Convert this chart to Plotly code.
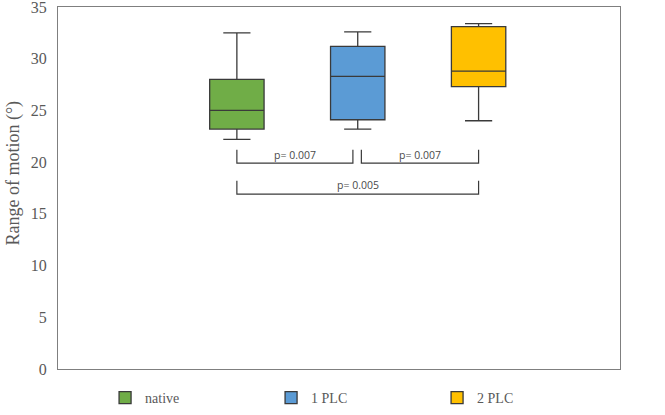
import plotly.graph_objects as go

groups = ["native", "1 PLC", "2 PLC"]
colors = ["#70AD47", "#5B9BD5", "#FFC000"]
lower = [22.2, 23.2, 24.0]
q1 = [23.2, 24.1, 27.3]
median = [25.0, 28.3, 28.8]
q3 = [28.0, 31.2, 33.1]
upper = [32.5, 32.6, 33.4]

# significance brackets: (start group, end group, top y, bottom y, label y, label)
brackets = [
    (0, 0.96, 21.2, 19.9, 20.7, "p= 0.007"),
    (1.03, 2, 21.2, 19.9, 20.7, "p= 0.007"),
    (0, 2, 18.2, 16.9, 17.8, "p= 0.005"),
]
y_title = "Range of motion (°)"

fig = go.Figure()
for i, g in enumerate(groups):
    fig.add_trace(go.Box(
        x=[i], q1=[q1[i]], median=[median[i]], q3=[q3[i]],
        lowerfence=[lower[i]], upperfence=[upper[i]],
        name=g, fillcolor=colors[i],
        line=dict(color="#3a3a3a", width=1.3),
        width=0.45, whiskerwidth=0.5, boxpoints=False,
    ))

shapes = []
annotations = []
for x0, x1, ytop, ybot, ytxt, label in brackets:
    shapes.append(dict(
        type="path", xref="x", yref="y",
        path=f"M {x0} {ytop} L {x0} {ybot} L {x1} {ybot} L {x1} {ytop}",
        line=dict(color="#3a3a3a", width=1.2),
    ))
    annotations.append(dict(
        x=(x0 + x1) / 2, y=ytxt, xref="x", yref="y", text=label,
        showarrow=False, font=dict(family="Open Sans", size=10.5, color="#4a4a4a"),
    ))
annotations.append(dict(
    x=-0.08, y=0.54, xref="paper", yref="paper", text=y_title, textangle=-90,
    showarrow=False, xanchor="center", yanchor="middle",
    font=dict(family="Liberation Serif", size=18, color="#595959"),
))

fig.update_layout(
    width=665, height=415,
    margin=dict(l=58, r=45, t=7, b=46, autoexpand=False),
    plot_bgcolor="white", paper_bgcolor="white",
    font=dict(family="Liberation Serif", size=16, color="#595959"),
    shapes=shapes, annotations=annotations,
    showlegend=True,
    legend=dict(orientation="h", xref="container", yref="container",
                x=0.158, xanchor="left", y=0.041, yanchor="middle",
                entrywidth=121, entrywidthmode="pixels",
                font=dict(family="Liberation Serif", size=14, color="#595959")),
    xaxis=dict(range=[-1.48, 3.17], showticklabels=False, showgrid=False,
               zeroline=False, showline=True, mirror=True, linecolor="#7f7f7f", linewidth=1.2),
    yaxis=dict(range=[0, 35], dtick=5, showgrid=False, zeroline=False,
               showline=True, mirror=True, linecolor="#7f7f7f", linewidth=1.2,
               ticks="", ticklabelstandoff=7, ticklabeloverflow="allow"),
)

fig.write_html("out.html")
